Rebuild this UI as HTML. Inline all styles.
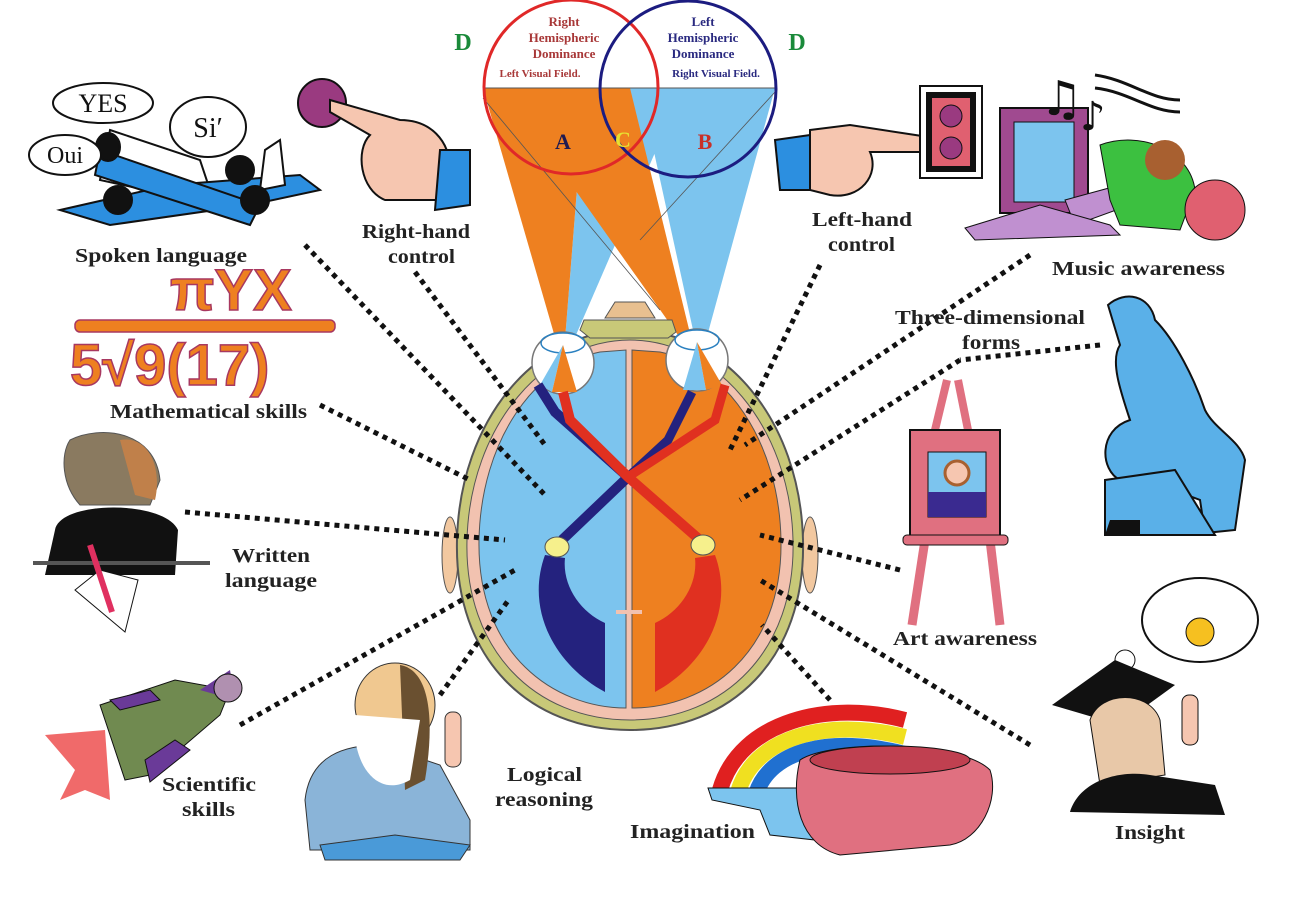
<!DOCTYPE html>
<html><head><meta charset="utf-8"><style>
html,body{margin:0;padding:0;background:#fff;}
svg{display:block}
text{font-family:"Liberation Serif",serif;font-weight:bold;}
</style></head><body>
<svg width="1305" height="908" viewBox="0 0 1305 908" xmlns="http://www.w3.org/2000/svg">
<rect width="1305" height="908" fill="#fff"/>

<!-- visual field wedges -->
<polygon points="585,88 683,88 563,365" fill="#7cc4ee"/>
<polygon points="640,88 775,88 700,362" fill="#7cc4ee"/>
<polygon points="483,88 585,88 563,365" fill="#ee8020"/>
<polygon points="503,88 630,88 697,362" fill="#ee8020"/>
<line x1="483" y1="98" x2="660" y2="310" stroke="#555" stroke-width="0.8"/>
<line x1="775" y1="92" x2="640" y2="240" stroke="#555" stroke-width="0.8"/>
<line x1="483" y1="88" x2="775" y2="88" stroke="#555" stroke-width="1"/>
<circle cx="571" cy="87" r="87" fill="none" stroke="#e02828" stroke-width="3"/>
<circle cx="688" cy="89" r="88" fill="none" stroke="#1c1c80" stroke-width="3"/>
<text x="564" y="26" font-size="13" fill="#a83838" text-anchor="middle">Right</text>
<text x="564" y="42" font-size="13" fill="#a83838" text-anchor="middle">Hemispheric</text>
<text x="564" y="58" font-size="13" fill="#a83838" text-anchor="middle">Dominance</text>
<text x="540" y="77" font-size="11" fill="#a83838" text-anchor="middle">Left Visual Field.</text>
<text x="703" y="26" font-size="13" fill="#2a2a80" text-anchor="middle">Left</text>
<text x="703" y="42" font-size="13" fill="#2a2a80" text-anchor="middle">Hemispheric</text>
<text x="703" y="58" font-size="13" fill="#2a2a80" text-anchor="middle">Dominance</text>
<text x="716" y="77" font-size="11" fill="#2a2a80" text-anchor="middle">Right Visual Field.</text>
<text x="563" y="149" font-size="22" fill="#201a50" text-anchor="middle">A</text>
<text x="623" y="147" font-size="22" fill="#e8e030" text-anchor="middle">C</text>
<text x="705" y="149" font-size="22" fill="#c83028" text-anchor="middle">B</text>
<text x="463" y="50" font-size="24" fill="#1a8a3a" text-anchor="middle">D</text>
<text x="797" y="50" font-size="24" fill="#1a8a3a" text-anchor="middle">D</text>

<!-- head -->
<ellipse cx="450" cy="555" rx="8" ry="38" fill="#f2c8a0" stroke="#555"/>
<ellipse cx="810" cy="555" rx="8" ry="38" fill="#f2c8a0" stroke="#555"/>
<path d="M630,330 C725,330 800,420 803,540 C806,660 730,730 630,730 C530,730 454,660 457,540 C460,420 535,330 630,330 Z" fill="#c8c878" stroke="#555" stroke-width="2"/>
<path d="M630,340 C715,340 790,425 793,540 C796,650 725,720 630,720 C535,720 464,650 467,540 C470,425 545,340 630,340 Z" fill="#f2c2b0" stroke="#555" stroke-width="1"/>
<path d="M626,350 L626,708 C555,708 477,655 479,540 C481,440 535,365 600,352 Z" fill="#7cc4ee" stroke="#555" stroke-width="1"/>
<path d="M632,350 L632,708 C705,708 783,655 781,540 C779,440 725,365 660,352 Z" fill="#ee8020" stroke="#555" stroke-width="1"/>
<line x1="629" y1="600" x2="629" y2="710" stroke="#f2c2b0" stroke-width="4"/>
<path d="M605,318 L615,302 L645,302 L655,318 Z" fill="#e8c090" stroke="#555"/>
<path d="M584,320 L672,320 L676,332 L668,338 L590,338 L580,330 Z" fill="#c8c878" stroke="#555"/>
<!-- eyes -->
<circle cx="563" cy="363" r="31" fill="#fff" stroke="#777" stroke-width="1.5"/>
<circle cx="697" cy="360" r="31" fill="#fff" stroke="#777" stroke-width="1.5"/>
<ellipse cx="563" cy="343" rx="22" ry="10" fill="none" stroke="#2a80c0" stroke-width="1.5"/>
<ellipse cx="697" cy="340" rx="22" ry="10" fill="none" stroke="#2a80c0" stroke-width="1.5"/>
<polygon points="563,345 540,385 552,392" fill="#7cc4ee"/>
<polygon points="563,345 552,392 577,392" fill="#ee8020"/>
<polygon points="697,342 683,390 706,390" fill="#7cc4ee"/>
<polygon points="697,342 706,390 722,385" fill="#ee8020"/>
<!-- pathways -->
<path d="M538,385 L555,412 L628,477 L562,540" fill="none" stroke="#24227e" stroke-width="10"/>
<path d="M692,392 L668,440 L628,477" fill="none" stroke="#24227e" stroke-width="9"/>
<path d="M563,392 L570,420 L628,477 L700,540" fill="none" stroke="#e03020" stroke-width="10"/>
<path d="M725,385 L715,420 L628,477" fill="none" stroke="#e03020" stroke-width="9"/>
<path d="M545,555 C525,610 555,665 605,692 L605,623 C580,612 562,585 565,558 Z" fill="#24227e"/>
<path d="M715,555 C735,610 705,665 655,692 L655,623 C680,612 698,585 695,558 Z" fill="#e03020"/>
<ellipse cx="557" cy="547" rx="12" ry="10" fill="#f6f08c" stroke="#555"/>
<ellipse cx="703" cy="545" rx="12" ry="10" fill="#f6f08c" stroke="#555"/>
<path d="M629,580 L629,705 M616,612 L642,612" stroke="#f2c2b0" stroke-width="4"/>

<!-- dotted connectors -->
<g stroke="#111" stroke-width="5" stroke-dasharray="5 5" fill="none">
<line x1="305" y1="245" x2="545" y2="495"/>
<line x1="415" y1="272" x2="545" y2="445"/>
<line x1="320" y1="405" x2="470" y2="480"/>
<line x1="185" y1="512" x2="505" y2="540"/>
<line x1="240" y1="725" x2="515" y2="570"/>
<line x1="440" y1="695" x2="510" y2="598"/>
<line x1="820" y1="265" x2="730" y2="450"/>
<line x1="1030" y1="255" x2="745" y2="445"/>
<line x1="1100" y1="345" x2="960" y2="360"/>
<line x1="960" y1="360" x2="740" y2="500"/>
<line x1="900" y1="570" x2="760" y2="535"/>
<line x1="1030" y1="745" x2="760" y2="580"/>
<line x1="830" y1="700" x2="762" y2="625"/>
</g>

<!-- labels -->
<g font-size="20" fill="#222" lengthAdjust="spacingAndGlyphs">
<text x="75" y="262" textLength="172" lengthAdjust="spacingAndGlyphs">Spoken language</text>
<text x="362" y="238" textLength="108" lengthAdjust="spacingAndGlyphs">Right-hand</text>
<text x="388" y="263" textLength="67" lengthAdjust="spacingAndGlyphs">control</text>
<text x="812" y="226" textLength="100" lengthAdjust="spacingAndGlyphs">Left-hand</text>
<text x="828" y="251" textLength="67" lengthAdjust="spacingAndGlyphs">control</text>
<text x="1052" y="275" textLength="173" lengthAdjust="spacingAndGlyphs">Music awareness</text>
<text x="895" y="324" textLength="190" lengthAdjust="spacingAndGlyphs">Three-dimensional</text>
<text x="962" y="349" textLength="58" lengthAdjust="spacingAndGlyphs">forms</text>
<text x="110" y="418" textLength="197" lengthAdjust="spacingAndGlyphs">Mathematical skills</text>
<text x="232" y="562" textLength="78" lengthAdjust="spacingAndGlyphs">Written</text>
<text x="225" y="587" textLength="92" lengthAdjust="spacingAndGlyphs">language</text>
<text x="893" y="645" textLength="144" lengthAdjust="spacingAndGlyphs">Art awareness</text>
<text x="162" y="791" textLength="94" lengthAdjust="spacingAndGlyphs">Scientific</text>
<text x="182" y="816" textLength="53" lengthAdjust="spacingAndGlyphs">skills</text>
<text x="507" y="781" textLength="75" lengthAdjust="spacingAndGlyphs">Logical</text>
<text x="495" y="806" textLength="98" lengthAdjust="spacingAndGlyphs">reasoning</text>
<text x="630" y="838" textLength="125" lengthAdjust="spacingAndGlyphs">Imagination</text>
<text x="1115" y="839" textLength="70" lengthAdjust="spacingAndGlyphs">Insight</text>
</g>

<!-- plane -->
<g stroke="#111" stroke-width="2">
<polygon points="110,130 200,160 215,205 100,180" fill="#fff"/>
<polygon points="60,210 170,185 300,175 320,190 250,205 110,225" fill="#2c8fe0"/>
<polygon points="100,150 260,205 250,225 95,175" fill="#2c8fe0"/>
<polygon points="265,150 280,140 285,185 260,190" fill="#fff"/>
<circle cx="118" cy="200" r="14" fill="#111"/>
<circle cx="240" cy="170" r="14" fill="#111"/>
<circle cx="255" cy="200" r="14" fill="#111"/>
<ellipse cx="108" cy="147" rx="12" ry="14" fill="#111"/>
<ellipse cx="103" cy="103" rx="50" ry="20" fill="#fff"/>
<ellipse cx="65" cy="155" rx="36" ry="20" fill="#fff"/>
<ellipse cx="208" cy="127" rx="38" ry="30" fill="#fff"/>
</g>
<text x="103" y="112" font-size="26" fill="#111" text-anchor="middle" style="font-weight:normal">YES</text>
<text x="65" y="163" font-size="24" fill="#111" text-anchor="middle" style="font-weight:normal">Oui</text>
<text x="208" y="137" font-size="28" fill="#111" text-anchor="middle" style="font-weight:normal">Si′</text>

<!-- right hand -->
<circle cx="322" cy="103" r="24" fill="#9a3a80" stroke="#111" stroke-width="2"/>
<path d="M330,100 L400,120 C430,120 450,140 450,170 L440,200 L385,200 C360,190 355,150 370,135 L330,112 Z" fill="#f6c6b0" stroke="#111" stroke-width="2"/>
<polygon points="440,150 470,150 470,205 435,210" fill="#2c8fe0" stroke="#111" stroke-width="2"/>

<!-- math -->
<g fill="#ee8020" stroke="#a83860" stroke-width="1.5">
<text x="170" y="310" font-size="58" style="font-family:'Liberation Sans',sans-serif">πYX</text>
<rect x="75" y="320" width="260" height="12" rx="5"/>
<text x="70" y="385" font-size="58" style="font-family:'Liberation Sans',sans-serif">5√9(17)</text>
</g>

<!-- writer -->
<path d="M70,440 C100,425 155,430 160,480 L150,505 L80,505 C62,485 60,455 70,440 Z" fill="#8a7a60" stroke="#555"/>
<path d="M120,440 C150,435 162,470 155,500 L135,495 Z" fill="#c0804a"/>
<path d="M55,530 C60,500 165,500 178,530 L175,575 L45,575 Z" fill="#111"/>
<line x1="33" y1="563" x2="210" y2="563" stroke="#555" stroke-width="4"/>
<polygon points="75,590 100,570 138,580 125,632" fill="#fff" stroke="#111"/>
<line x1="90" y1="545" x2="112" y2="612" stroke="#e03060" stroke-width="6"/>

<!-- rocket -->
<polygon points="45,735 105,730 110,800 85,790 60,800 75,770" fill="#f06a6a"/>
<polygon points="100,705 175,680 230,690 220,715 150,775 125,780" fill="#708a50" stroke="#111"/>
<polygon points="110,700 150,690 160,700 120,710" fill="#6a3a98" stroke="#111"/>
<polygon points="145,760 175,740 190,750 150,782" fill="#6a3a98" stroke="#111"/>
<polygon points="200,690 230,670 235,700" fill="#6a3a98"/>
<circle cx="228" cy="688" r="14" fill="#b090b0" stroke="#111"/>

<!-- old man -->
<path d="M305,800 C310,755 345,745 380,745 L440,765 L470,820 L470,850 L310,850 Z" fill="#8ab4d8" stroke="#333"/>
<ellipse cx="395" cy="705" rx="40" ry="42" fill="#f0c890" stroke="#333"/>
<path d="M400,665 C430,670 435,720 425,780 L405,790 Z" fill="#6a5030"/>
<path d="M355,715 C350,760 375,800 410,780 L420,720 Z" fill="#fff"/>
<path d="M320,845 L395,835 L470,845 L460,860 L325,860 Z" fill="#4a9ad8" stroke="#333"/>
<rect x="445" y="712" width="16" height="55" rx="7" fill="#f6c6b0" stroke="#333"/>

<!-- rainbow + pot -->
<path d="M720,790 C740,720 830,700 905,720" fill="none" stroke="#e02020" stroke-width="16"/>
<path d="M738,792 C755,735 830,718 905,737" fill="none" stroke="#f0e020" stroke-width="16"/>
<path d="M756,794 C770,750 830,735 905,754" fill="none" stroke="#2070d0" stroke-width="16"/>
<path d="M708,788 L805,788 L815,840 L770,835 L760,810 L712,800 Z" fill="#7cc4ee" stroke="#111"/>
<path d="M800,760 C830,740 960,740 990,770 C1000,800 980,840 950,845 L840,855 C800,845 790,800 800,760 Z" fill="#e07080" stroke="#111"/>
<ellipse cx="890" cy="760" rx="80" ry="14" fill="#c04050" stroke="#111"/>

<!-- left hand -->
<polygon points="775,140 810,135 815,190 780,190" fill="#2c8fe0" stroke="#111" stroke-width="2"/>
<path d="M810,130 L850,125 L935,138 L932,152 L870,152 C880,175 860,200 830,195 L810,190 Z" fill="#f6c6b0" stroke="#111" stroke-width="2"/>
<rect x="920" y="86" width="62" height="92" fill="#fff" stroke="#111" stroke-width="2"/>
<rect x="926" y="92" width="50" height="80" fill="#111"/>
<rect x="932" y="98" width="38" height="68" fill="#e06070"/>
<circle cx="951" cy="116" r="11" fill="#9a3a80" stroke="#111"/>
<circle cx="951" cy="148" r="11" fill="#9a3a80" stroke="#111"/>
<!-- music -->
<rect x="1000" y="108" width="88" height="105" fill="#a04a90" stroke="#111" stroke-width="2"/>
<rect x="1014" y="122" width="60" height="80" fill="#7cc4ee" stroke="#111"/>
<path d="M1065,200 L1120,185 L1130,205 L1075,225 Z" fill="#c090d0" stroke="#111"/>
<path d="M1100,145 C1140,130 1190,150 1195,190 L1180,230 L1120,225 L1110,200 Z" fill="#3cc040" stroke="#111"/>
<circle cx="1165" cy="160" r="20" fill="#a86030"/>
<path d="M965,228 L1040,205 L1110,225 L1120,235 L975,240 Z" fill="#c090d0" stroke="#111"/>
<circle cx="1215" cy="210" r="30" fill="#e06070" stroke="#111"/>
<text x="1040" y="115" font-size="48" fill="#111" style="font-family:'DejaVu Sans',sans-serif">♫</text>
<text x="1080" y="130" font-size="40" fill="#111" style="font-family:'DejaVu Sans',sans-serif">♪</text>
<path d="M1095,75 C1130,80 1150,100 1180,100 M1095,88 C1130,92 1150,112 1180,112" stroke="#111" stroke-width="3" fill="none"/>

<!-- thinker -->
<path d="M1108,305 C1125,290 1150,295 1155,320 C1175,340 1195,380 1205,410 C1215,430 1240,440 1245,460 L1235,530 L1205,533 L1200,500 L1160,485 L1120,480 C1100,470 1098,430 1130,420 C1120,390 1110,360 1120,345 Z" fill="#5ab0e8" stroke="#111" stroke-width="2"/>
<path d="M1105,480 L1175,470 L1215,535 L1105,535 Z" fill="#5ab0e8" stroke="#111" stroke-width="2"/>
<path d="M1110,520 L1140,520 L1140,535 L1105,535 Z" fill="#111"/>
<!-- easel -->
<line x1="947" y1="380" x2="935" y2="430" stroke="#e07080" stroke-width="8"/>
<line x1="958" y1="380" x2="968" y2="430" stroke="#e07080" stroke-width="8"/>
<line x1="925" y1="540" x2="912" y2="625" stroke="#e07080" stroke-width="9"/>
<line x1="990" y1="540" x2="1000" y2="625" stroke="#e07080" stroke-width="9"/>
<rect x="910" y="430" width="90" height="110" fill="#e07080" stroke="#111" stroke-width="2"/>
<rect x="903" y="535" width="105" height="10" rx="4" fill="#e07080" stroke="#111"/>
<rect x="928" y="452" width="58" height="65" fill="#7cc4ee" stroke="#111"/>
<path d="M928,517 L928,492 L986,492 L986,517 Z" fill="#3a2a90"/>
<circle cx="957" cy="473" r="12" fill="#f6c6b0" stroke="#a86030" stroke-width="3"/>
<!-- insight -->
<ellipse cx="1200" cy="620" rx="58" ry="42" fill="#fff" stroke="#111" stroke-width="2"/>
<circle cx="1125" cy="660" r="10" fill="#fff" stroke="#111"/>
<circle cx="1200" cy="632" r="14" fill="#f6c020" stroke="#111"/>
<polygon points="1052,705 1115,660 1175,685 1120,725" fill="#111"/>
<path d="M1090,720 C1100,690 1150,690 1160,720 L1165,775 L1100,785 Z" fill="#e8c8a8" stroke="#111"/>
<path d="M1070,812 C1080,780 1120,770 1150,775 L1215,785 L1225,815 Z" fill="#111"/>
<rect x="1182" y="695" width="16" height="50" rx="7" fill="#f6c6b0" stroke="#111"/>
</svg>
</body></html>
